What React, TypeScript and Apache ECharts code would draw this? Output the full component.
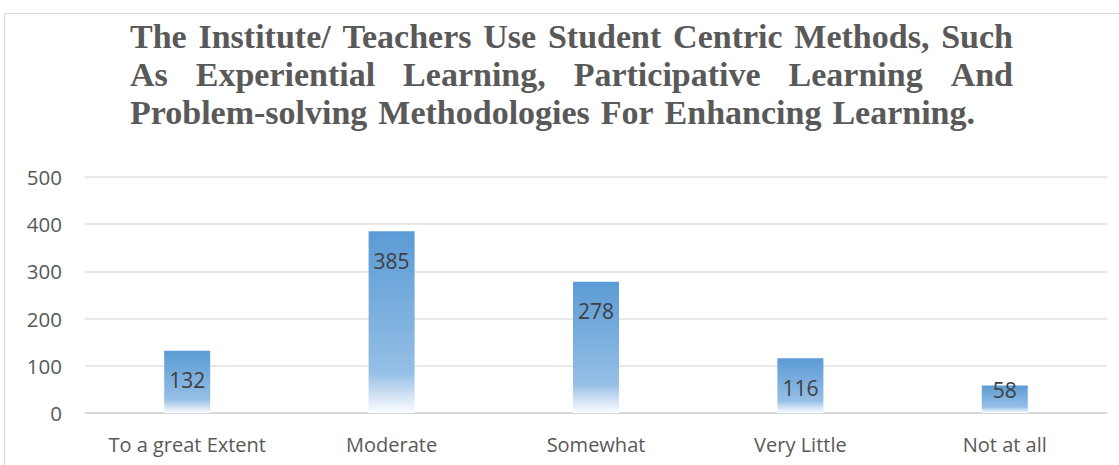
import React, { useEffect, useRef } from "react";
import * as echarts from "echarts";

const categories = ["To a great Extent", "Moderate", "Somewhat", "Very Little", "Not at all"];
const values = [132, 385, 278, 116, 58];
const yTicks = [0, 100, 200, 300, 400, 500];
const titleLines = [
  "The Institute/ Teachers Use Student Centric Methods, Such",
  "As Experiential Learning, Participative Learning And",
  "Problem-solving Methodologies For Enhancing Learning.",
];

export default function App() {
  const ref = useRef<HTMLDivElement>(null);
  useEffect(() => {
    const chart = echarts.init(ref.current!, null, { renderer: "svg" });
    const titleSize = 34;
    const titleFamily = '"Liberation Serif", "Times New Roman", serif';
    const ctx = document.createElement("canvas").getContext("2d")!;
    ctx.font = `bold ${titleSize}px ${titleFamily}`;
    const left = 130;
    const rights = [1013, 1013, 975];
    const centers = [36, 74, 112];
    const graphics: any[] = [
      {
        type: "rect",
        silent: true,
        z: -10,
        shape: { x: 4.5, y: 13.5, width: 1400, height: 700 },
        style: { fill: "none", stroke: "#d9d9d9", lineWidth: 1 },
      },
    ];
    titleLines.forEach((line, i) => {
      const words = line.split(" ");
      const widths = words.map((w) => ctx.measureText(w).width);
      const total = widths.reduce((a, b) => a + b, 0);
      const gap = (rights[i] - left - total) / (words.length - 1);
      let x = left;
      words.forEach((w, j) => {
        graphics.push({
          type: "text",
          silent: true,
          x,
          y: centers[i],
          style: {
            text: w,
            fontSize: titleSize,
            fontWeight: "bold",
            fontFamily: titleFamily,
            fill: "#595959",
            align: "left",
            verticalAlign: "middle",
          },
        });
        x += widths[j] + gap;
      });
    });

    const labelFont = '"Open Sans", "Noto Sans", sans-serif';
    chart.setOption({
      animation: false,
      graphic: graphics,
      grid: { left: 85, right: 12, top: 177, bottom: 52, containLabel: false },
      xAxis: {
        type: "category",
        data: categories,
        axisLine: { show: true, lineStyle: { color: "#d4d4d4", width: 1.5 } },
        axisTick: { show: false },
        axisLabel: { interval: 0, fontSize: 20, color: "#595959", fontFamily: labelFont, margin: 21 },
      },
      yAxis: {
        type: "value",
        min: yTicks[0],
        max: yTicks[yTicks.length - 1],
        interval: yTicks[1] - yTicks[0],
        axisLine: { show: false },
        axisTick: { show: false },
        axisLabel: { fontSize: 20.5, color: "#595959", fontFamily: labelFont, margin: 23 },
        splitLine: { lineStyle: { color: "#e0e0e0", width: 1.5 } },
      },
      series: [
        {
          type: "bar",
          barWidth: 46,
          data: values.map((v) =>
            v < 80 ? { value: v, label: { offset: [0, -25] } } : v
          ),
          itemStyle: {
            color: new echarts.graphic.LinearGradient(0, 0, 0, 1, [
              { offset: 0, color: "#5b9bd5" },
              { offset: 0.78, color: "#95bfe6" },
              { offset: 0.88, color: "#c6dcf1" },
              { offset: 1, color: "#fbfdff" },
            ]),
          },
          label: {
            show: true,
            position: "insideTop",
            distance: 19,
            fontSize: 21,
            color: "#404040",
            fontFamily: labelFont,
          },
        },
      ],
    });
    return () => chart.dispose();
  }, []);
  return (
    <div
      ref={ref}
      style={{ position: "absolute", left: 0, top: 0, width: 1119, height: 465, background: "#fff" }}
    />
  );
}
